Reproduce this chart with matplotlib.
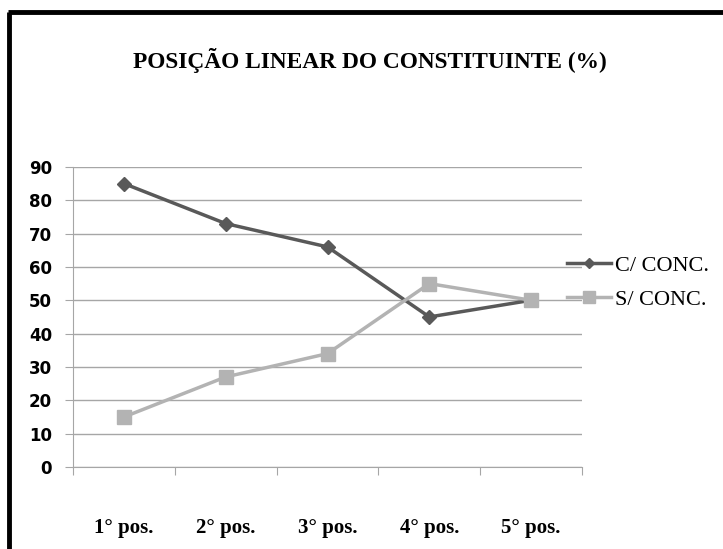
import matplotlib.pyplot as plt
from matplotlib.lines import Line2D

categories = ["1° pos.", "2° pos.", "3° pos.", "4° pos.", "5° pos."]
c_conc = [85, 73, 66, 45, 50]
s_conc = [15, 27, 34, 55, 50]

fig = plt.figure(figsize=(7.23, 5.49), dpi=100)
ax = fig.add_axes([0.101, 0.1494, 0.704, 0.5466])

x = range(len(categories))
ax.plot(x, c_conc, color="#595959", lw=2.5, marker="D", ms=7, label="C/ CONC.", zorder=3)
ax.plot(x, s_conc, color="#b3b3b3", lw=2.5, marker="s", ms=10, label="S/ CONC.", zorder=3)

ax.set_xlim(-0.5, len(categories) - 0.5)
ax.set_ylim(0, 90)
ax.set_yticks(range(0, 91, 10))
ax.yaxis.grid(True, color="#a6a6a6", lw=1)
ax.set_axisbelow(True)
for s in ["top", "right"]:
    ax.spines[s].set_visible(False)
ax.spines["left"].set_color("#a6a6a6")
ax.spines["bottom"].set_color("#a6a6a6")

# category ticks on the boundaries, labels in the middle
ax.set_xticks([i - 0.5 for i in range(len(categories) + 1)])
ax.set_xticklabels([])
ax.set_xticks(list(x), minor=True)
ax.set_xticklabels(categories, minor=True, fontfamily="Liberation Serif",
                   fontweight="bold", fontsize=15)
ax.tick_params(axis="x", which="major", length=6, color="#a6a6a6")
ax.tick_params(axis="x", which="minor", length=0, pad=37)
ax.tick_params(axis="y", length=6, color="#a6a6a6", labelsize=12, pad=9)
for lab in ax.get_yticklabels():
    lab.set_fontweight("bold")
    lab.set_fontfamily("DejaVu Sans")

fig.text(0.512, 0.89, "POSIÇÃO LINEAR DO CONSTITUINTE (%)", ha="center", va="center",
         fontfamily="Liberation Serif", fontweight="bold", fontsize=16.8)

ax.legend(loc="center left", bbox_to_anchor=(0.97, 0.615), frameon=False,
          prop={"family": "Liberation Serif", "size": 16}, handlelength=2.0,
          handletextpad=0.15, labelspacing=0.6, borderaxespad=0, borderpad=0,
          markerscale=0.8)

# frame lines (left and top)
fig.add_artist(Line2D([0.0125, 0.0125], [0.0, 0.979], color="black", lw=3.5,
                      solid_capstyle="butt"))
fig.add_artist(Line2D([0.0105, 1.0], [0.979, 0.979], color="black", lw=3.5,
                      solid_capstyle="butt"))

fig.savefig("out.png", dpi=100)
